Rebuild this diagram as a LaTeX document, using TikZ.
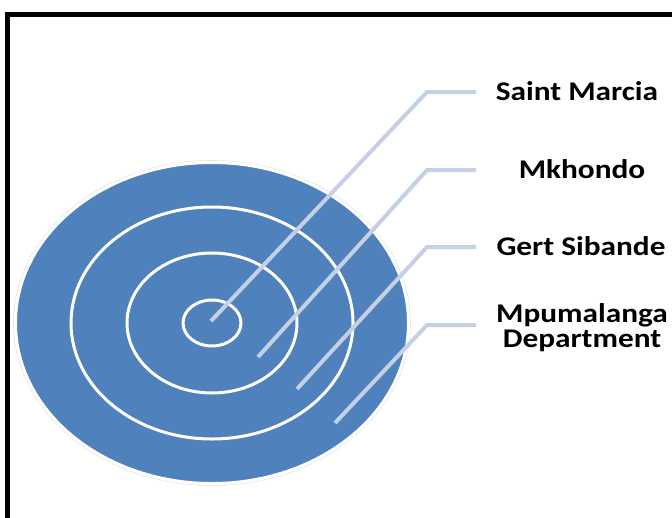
\documentclass[tikz,border=0pt]{standalone}
\usepackage{fontspec}
\setmainfont{Carlito}
\definecolor{ringblue}{RGB}{79,129,189}
\definecolor{leadgray}{RGB}{197,208,228}

\begin{document}
\begin{tikzpicture}[x=1pt, y=-1pt,
    leader/.style={draw=leadgray, line width=4pt},
    ring/.style={draw=white, line width=3pt},
    lbl/.style={font=\bfseries\fontsize{27}{25}\selectfont, align=center, xscale=1.16, inner sep=0pt, anchor=base}]
  \useasboundingbox (0,0) rectangle (672,517);
  % frame
  \draw[line width=5pt] (7.5,530) -- (7.5,14.5) -- (690,14.5);

  % target
  \coordinate (O) at (212,323);
  \draw[gray!20, line width=0.6pt] (O) ellipse [x radius=198.5, y radius=162.5];
  \filldraw[fill=ringblue, draw=white, line width=2pt] (O) ellipse [x radius=196, y radius=160];
  \draw[ring] (O) ellipse [x radius=141, y radius=116];
  \draw[ring] (O) ellipse [x radius=85, y radius=70];
  \draw[ring] (O) ellipse [x radius=29, y radius=23];

  % labels
  \node[lbl] (sm) at (577,100) {Saint Marcia};
  \node[lbl] (mk) at (582,178) {Mkhondo};
  \node[lbl] (gs) at (581,255) {Gert Sibande};
  \node[lbl] (mp) at (582,347) {Mpumalanga\\Department};

  \coordinate (p1) at (211,321);
  \coordinate (p2) at (258,357);
  \coordinate (p3) at (297,389);
  \coordinate (p4) at (335,423);
  \coordinate (k1) at (427,92);
  \coordinate (k2) at (427,170);
  \coordinate (k3) at (427,247);
  \coordinate (k4) at (427,325);
  \coordinate (e1) at (476,92);
  \coordinate (e2) at (476,170);
  \coordinate (e3) at (476,247);
  \coordinate (e4) at (476,325);

  \draw[leader] (p1) -- (k1) -- (e1);
  \draw[leader] (p2) -- (k2) -- (e2);
  \draw[leader] (p3) -- (k3) -- (e3);
  \draw[leader] (p4) -- (k4) -- (e4);
\end{tikzpicture}
\end{document}
